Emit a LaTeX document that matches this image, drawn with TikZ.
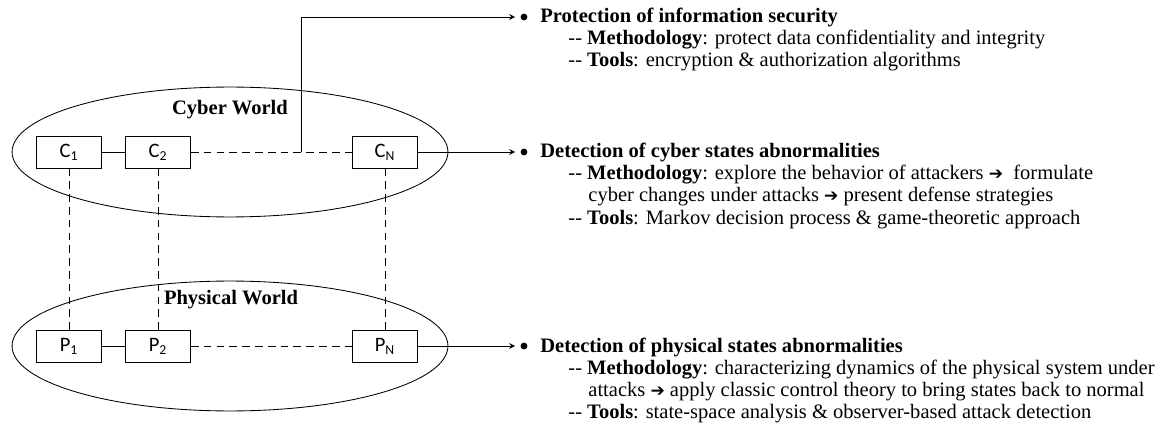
\documentclass[tikz,border=0pt]{standalone}
\usepackage{fontspec}
\setmainfont{Liberation Serif}
\newfontfamily\boxfont{Carlito}
\newfontfamily\symfont{DejaVu Sans}
\newcommand{\stepto}{{\symfont\fontsize{10}{12}\selectfont ➔}}
\usetikzlibrary{arrows,shapes,calc}

\begin{document}
\begin{tikzpicture}[
		x=0.585pt,
		y=-0.585pt,
		>=stealth,
		every path/.style={line width=0.5pt},
		cell/.style={
			draw,
			rectangle,
			minimum width=38pt,
			minimum height=18.7pt,
			inner sep=0pt,
			font=\boxfont\fontsize{12}{13}\selectfont
		},
		world/.style={
			draw,
			ellipse,
			inner sep=0pt,
			minimum width=255pt,
			minimum height=76pt
		},
		worldname/.style={
			inner sep=0pt,
			font=\bfseries\fontsize{12}{13}\selectfont
		},
		bullet/.style={
			fill=black,
			circle,
			minimum size=4pt,
			inner sep=0pt
		},
		feed/.style={
			->,
			shorten >=3pt
		},
		link/.style={
			dash pattern=on 4.5pt off 3pt
		},
		txt/.style={
			anchor=base west,
			inner sep=0pt,
			font=\fontsize{12}{13}\selectfont
		}
		]
		\useasboundingbox (0,0) rectangle (1160,433);
		\node[world] (cyber) at (230,152) {};
		\node[world] (physical) at (230,346) {};
		\node[worldname] (cyberlabel) at (230,110) {Cyber World};
		\node[worldname] (physlabel) at (231,300) {Physical World};
		\node[cell] (c1) at (69,152) {C\textsubscript{1}};
		\node[cell] (c2) at (158,152) {C\textsubscript{2}};
		\node[cell] (cn) at (385,152) {C\textsubscript{N}};
		\node[cell] (p1) at (69,346) {P\textsubscript{1}};
		\node[cell] (p2) at (158,346) {P\textsubscript{2}};
		\node[cell] (pn) at (385,346) {P\textsubscript{N}};
		\draw (c1) -- (c2);
		\draw[link] (c2) -- (cn);
		\draw (p1) -- (p2);
		\draw[link] (p2) -- (pn);
		\draw[link] (c1) -- (p1);
		\draw[link] (c2) -- (p2);
		\draw[link] (cn) -- (pn);
		\coordinate (tap) at (301,152);
		\node[bullet] (b1) at (524,17) {};
		\node[bullet] (b2) at (524,152) {};
		\node[bullet] (b3) at (524,346) {};
		\draw[feed] (tap) |- (b1);
		\draw[feed] (cn) -- (b2);
		\draw[feed] (pn) -- (b3);
		\node[txt] (h1) at (540,23) {\textbf{Protection of information security}};
		\node[txt] (m1) at (568,45) {-{}- \textbf{Methodology}: protect data confidentiality and integrity};
		\node[txt] (t1) at (568,67) {-{}- \textbf{Tools}: encryption \& authorization algorithms};
		\node[txt] (h2) at (540,158) {\textbf{Detection of cyber states abnormalities}};
		\node[txt] (m2) at (568,180) {-{}- \textbf{Methodology}: explore the behavior of attackers \stepto~ formulate};
		\node[txt] (n2) at (588,202) {cyber changes under attacks \stepto{} present defense strategies};
		\node[txt] (t2) at (568,224) {-{}- \textbf{Tools}: Markov decision process \& game-theoretic approach};
		\node[txt] (h3) at (540,352) {\textbf{Detection of physical states abnormalities}};
		\node[txt] (m3) at (568,374) {-{}- \textbf{Methodology}: characterizing dynamics of the physical system under};
		\node[txt] (n3) at (588,396) {attacks \stepto{} apply classic control theory to bring states back to normal};
		\node[txt] (t3) at (568,418) {-{}- \textbf{Tools}: state-space analysis \& observer-based attack detection};
		\end{tikzpicture}
\end{document}
